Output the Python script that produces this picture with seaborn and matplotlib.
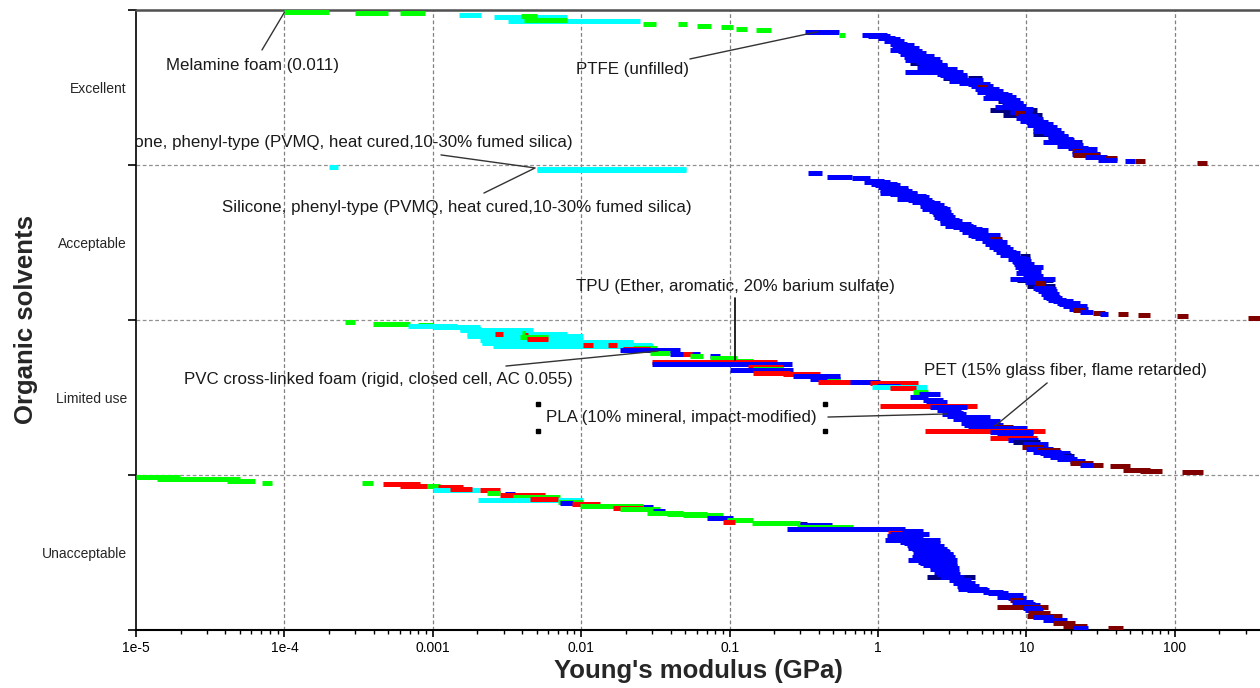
import numpy as np
import pandas as pd
import seaborn as sns
import matplotlib.pyplot as plt
from matplotlib.ticker import FixedLocator, LogLocator, NullFormatter

# rating bands, top to bottom
bands = ["Excellent", "Acceptable", "Limited use", "Unacceptable"]

# material family -> colour
families = {"g": "#00ff00", "c": "#00ffff", "r": "#ff0000",
            "b": "#0000ff", "n": "#000080", "m": "#800000"}

# each record: (E low GPa, E high GPa, rank within band 0..1, family)
excellent = [
    (1e-4, 2.0e-4, 0.0, "g"), (3.0e-4, 5.0e-4, 0.006, "g"), (6e-4, 8.9e-4, 0.006, "g"),
    (1.5e-3, 2.1e-3, 0.02, "c"), (2.6e-3, 8e-3, 0.03, "c"), (3.9e-3, 5.0e-3, 0.025, "g"),
    (3.2e-3, 0.025, 0.06, "c"), (4.1e-3, 8e-3, 0.05, "g"),
    (0.026, 0.032, 0.077, "g"), (0.045, 0.052, 0.077, "g"), (0.060, 0.075, 0.09, "g"),
    (0.087, 0.105, 0.10, "g"), (0.11, 0.13, 0.11, "g"), (0.15, 0.19, 0.12, "g"),
    (0.32, 0.55, 0.13, "b"), (0.55, 0.6, 0.15, "g"),
    (1.65, 1.98, 0.335, "n"), (2.74, 3.3, 0.44, "n"), (4.04, 5.0, 0.44, "n"),
    (6.44, 7.75, 0.59, "n"), (5.7, 11.8, 0.65, "n"), (6.95, 12.7, 0.68, "n"),
    (11.1, 16.8, 0.81, "n"), (20.6, 23.7, 0.86, "n"),
    (0.78, 1.15, 0.148, "b"), (0.85, 1.2, 0.16, "b"), (1.0, 1.3, 0.17, "b"),
    (1.15, 1.4, 0.18, "b"), (1.1, 1.5, 0.19, "b"), (1.2, 1.57, 0.21, "b"),
    (1.25, 1.75, 0.22, "b"), (1.3, 1.7, 0.23, "b"), (1.3, 1.9, 0.24, "b"),
    (1.2, 1.8, 0.25, "b"), (1.36, 1.98, 0.26, "b"), (1.45, 2.1, 0.27, "b"),
    (1.4, 1.98, 0.28, "b"), (1.6, 2.4, 0.29, "b"), (1.5, 2.0, 0.30, "b"),
    (1.7, 2.6, 0.31, "b"), (1.52, 2.17, 0.32, "b"), (1.8, 2.7, 0.33, "b"),
    (1.9, 2.9, 0.35, "b"), (2.0, 2.9, 0.36, "b"), (1.83, 2.92, 0.37, "b"),
    (2.3, 3.4, 0.38, "b"), (2.2, 3.0, 0.385, "b"), (1.52, 3.74, 0.395, "b"),
    (2.5, 3.7, 0.41, "b"), (2.62, 3.98, 0.42, "b"), (2.8, 4.0, 0.43, "b"),
    (3.3, 5.1, 0.45, "b"), (3.0, 4.5, 0.46, "b"), (3.5, 5.0, 0.47, "b"),
    (4.04, 5.7, 0.48, "b"), (4.2, 6.0, 0.49, "b"), (4.65, 5.43, 0.50, "m"),
    (4.5, 6.5, 0.51, "b"), (5.0, 7.0, 0.52, "b"), (4.65, 6.64, 0.53, "b"),
    (5.3, 7.5, 0.54, "b"), (5.5, 8.0, 0.55, "b"), (5.8, 8.5, 0.56, "b"),
    (5.1, 7.75, 0.57, "b"), (6.5, 9.0, 0.58, "b"), (6.8, 9.5, 0.60, "b"),
    (7.0, 9.5, 0.61, "b"), (7.2, 10.0, 0.62, "b"), (6.14, 9.3, 0.63, "b"),
    (8.0, 11.0, 0.64, "b"), (7.75, 10.9, 0.66, "b"), (8.4, 9.8, 0.67, "m"),
    (8.8, 12.0, 0.69, "b"), (8.5, 12.0, 0.70, "b"), (9.5, 13.0, 0.71, "b"),
    (9.1, 12.9, 0.72, "b"), (10.0, 14.0, 0.73, "b"), (10.5, 15.0, 0.74, "b"),
    (10.1, 14.4, 0.75, "b"), (12.0, 16.0, 0.76, "b"), (11.0, 15.0, 0.77, "b"),
    (12.5, 17.0, 0.78, "b"), (11.1, 16.1, 0.79, "b"), (13.0, 18.0, 0.80, "b"),
    (14.0, 19.0, 0.82, "b"), (14.0, 19.0, 0.83, "b"), (15.1, 20.6, 0.84, "b"),
    (15.0, 21.0, 0.85, "b"), (12.9, 23.0, 0.86, "b"), (17.0, 23.0, 0.87, "b"),
    (18.0, 24.0, 0.88, "b"), (16.1, 21.9, 0.89, "b"), (19.0, 26.0, 0.90, "b"),
    (22.0, 30.0, 0.91, "b"), (20.3, 23.7, 0.92, "m"), (21.0, 28.0, 0.93, "b"),
    (20.3, 31.3, 0.94, "b"), (20.6, 31.3, 0.95, "m"), (25.0, 35.0, 0.96, "b"),
    (33.9, 40.8, 0.97, "m"), (30.4, 40.8, 0.98, "b"), (46.0, 54.0, 0.99, "b"),
    (54.0, 63.0, 0.99, "m"), (141.0, 165.0, 1.0, "m"),
]

acceptable = [
    (2.0e-4, 2.3e-4, 0.0, "c"), (5.0e-3, 0.051, 0.013, "c"), (5.0e-3, 0.051, 0.02, "c"),
    (2.35, 2.74, 0.31, "n"), (2.96, 3.46, 0.374, "n"), (9.06, 10.6, 0.59, "n"),
    (9.06, 11.1, 0.68, "n"), (8.65, 15.1, 0.75, "n"), (10.1, 15.6, 0.79, "n"),
    (0.337, 0.42, 0.04, "b"), (0.45, 0.67, 0.065, "b"), (0.67, 0.88, 0.07, "b"),
    (0.86, 1.1, 0.09, "b"), (0.8, 1.2, 0.10, "b"), (0.9, 1.34, 0.11, "b"),
    (0.95, 1.4, 0.12, "b"), (1.0, 1.34, 0.13, "b"), (1.1, 1.6, 0.14, "b"),
    (1.03, 1.6, 0.15, "b"), (1.15, 1.7, 0.16, "b"), (1.03, 1.83, 0.17, "b"),
    (1.2, 1.83, 0.18, "b"), (1.4, 2.1, 0.19, "b"), (1.5, 2.2, 0.20, "b"),
    (1.34, 2.01, 0.21, "b"), (1.6, 2.3, 0.22, "b"), (1.7, 2.4, 0.23, "b"),
    (1.92, 2.62, 0.24, "b"), (1.95, 2.8, 0.25, "b"), (1.92, 2.62, 0.26, "b"),
    (2.1, 2.9, 0.27, "b"), (1.98, 3.05, 0.28, "b"), (2.2, 3.0, 0.29, "b"),
    (2.3, 3.1, 0.30, "b"), (2.5, 3.2, 0.32, "b"), (2.4, 3.3, 0.33, "b"),
    (2.5, 3.2, 0.34, "b"), (2.6, 3.5, 0.35, "b"), (2.7, 3.7, 0.36, "b"),
    (2.62, 3.57, 0.37, "b"), (3.0, 4.2, 0.38, "b"), (2.83, 4.37, 0.39, "b"),
    (3.2, 4.6, 0.40, "b"), (3.5, 5.0, 0.41, "b"), (3.86, 5.5, 0.42, "b"),
    (3.7, 5.3, 0.43, "b"), (4.04, 6.64, 0.45, "b"), (4.2, 6.2, 0.46, "b"),
    (4.5, 6.0, 0.47, "b"), (5.69, 6.85, 0.48, "m"), (5.0, 6.8, 0.49, "b"),
    (5.5, 7.4, 0.50, "b"), (5.3, 7.2, 0.51, "b"), (5.6, 7.7, 0.53, "b"),
    (5.96, 8.1, 0.54, "b"), (6.2, 8.5, 0.56, "b"), (6.95, 9.06, 0.57, "b"),
    (6.6, 8.9, 0.58, "b"), (7.8, 10.0, 0.60, "b"), (7.5, 10.5, 0.61, "b"),
    (8.0, 10.8, 0.62, "b"), (8.1, 10.3, 0.63, "b"), (8.3, 11.2, 0.64, "b"),
    (8.4, 12.9, 0.66, "b"), (8.8, 11.8, 0.67, "b"), (9.0, 12.5, 0.69, "b"),
    (8.5, 11.5, 0.70, "b"), (9.5, 13.0, 0.72, "b"), (7.75, 15.6, 0.74, "b"),
    (9.8, 13.5, 0.76, "b"), (11.4, 13.3, 0.77, "m"), (11.0, 15.0, 0.80, "b"),
    (11.5, 15.8, 0.81, "b"), (12.0, 16.1, 0.82, "b"), (12.5, 16.5, 0.84, "b"),
    (12.9, 16.8, 0.86, "b"), (13.5, 17.5, 0.87, "b"), (14.0, 18.5, 0.88, "b"),
    (15.1, 20.6, 0.89, "b"), (16.0, 23.0, 0.90, "b"), (16.5, 21.5, 0.91, "b"),
    (17.7, 25.6, 0.92, "b"), (19.5, 26.0, 0.94, "b"),
    (20.6, 24.8, 0.95, "m"), (23.0, 28.1, 0.96, "b"), (28.1, 33.9, 0.97, "m"),
    (31.3, 35.5, 0.975, "b"), (41.4, 48.4, 0.975, "m"), (56.5, 68.0, 0.98, "m"),
    (103.0, 123.0, 0.99, "m"), (311.0, 375.0, 1.0, "m"),
]

limited = [
    (2.56e-4, 2.99e-4, 0.0, "g"), (3.95e-4, 7.0e-4, 0.013, "g"), (7.95e-4, 1.0e-3, 0.02, "g"),
    (6.8e-4, 1.46e-3, 0.026, "c"), (1.0e-3, 2.08e-3, 0.032, "c"), (1.52e-3, 2.1e-3, 0.045, "c"),
    (1.52e-3, 4.73e-3, 0.052, "c"), (1.70e-3, 8.0e-3, 0.077, "c"), (1.7e-3, 0.0103, 0.09, "c"),
    (2.08e-3, 0.0103, 0.116, "c"), (2.15e-3, 0.0223, 0.13, "c"), (2.15e-3, 0.0223, 0.14, "c"),
    (3.0e-3, 0.03, 0.15, "c"), (2.55e-3, 0.0305, 0.16, "c"),
    (2.62e-3, 2.97e-3, 0.077, "r"), (4.0e-3, 4.2e-3, 0.07, "g"), (4.18e-3, 4.38e-3, 0.084, "r"),
    (3.87e-3, 5.97e-3, 0.097, "g"), (4.31e-3, 5.97e-3, 0.11, "r"),
    (0.0103, 0.012, 0.148, "r"), (0.0152, 0.0174, 0.148, "r"),
    (0.0223, 0.0324, 0.174, "g"), (0.0191, 0.0291, 0.18, "r"), (0.0182, 0.0463, 0.187, "b"),
    (0.0291, 0.0396, 0.206, "g"), (0.0396, 0.0632, 0.213, "b"), (0.0485, 0.0558, 0.213, "r"),
    (0.054, 0.0662, 0.226, "g"), (0.0738, 0.086, 0.226, "b"), (0.0738, 0.112, 0.24, "g"),
    (0.105, 0.144, 0.258, "g"), (0.030, 0.208, 0.265, "r"), (0.030, 0.263, 0.277, "b"),
    (0.133, 0.229, 0.30, "r"), (0.144, 0.229, 0.31, "g"), (0.1007, 0.267, 0.316, "b"),
    (0.144, 0.255, 0.335, "r"), (0.229, 0.406, 0.342, "r"), (0.267, 0.554, 0.355, "b"),
    (0.348, 0.554, 0.374, "b"), (0.453, 0.554, 0.387, "g"), (0.394, 0.88, 0.40, "r"),
    (0.647, 1.03, 0.40, "b"), (0.88, 1.86, 0.406, "r"), (0.984, 1.41, 0.426, "b"),
    (0.91, 2.14, 0.432, "c"), (1.2, 1.8, 0.44, "r"), (1.72, 2.17, 0.465, "g"),
    (1.9, 2.6, 0.48, "b"), (1.64, 2.17, 0.497, "b"), (2.01, 2.74, 0.516, "b"),
    (2.1, 2.9, 0.53, "b"), (1.03, 4.65, 0.555, "r"), (2.24, 3.98, 0.561, "b"),
    (2.5, 3.6, 0.58, "b"), (2.92, 3.74, 0.60, "b"), (2.7, 3.9, 0.61, "b"),
    (2.92, 3.74, 0.626, "b"), (3.41, 5.69, 0.632, "b"), (3.2, 4.9, 0.64, "b"),
    (4.17, 6.64, 0.658, "b"), (3.6, 5.9, 0.67, "b"), (3.8, 7.0, 0.68, "b"),
    (5.96, 8.1, 0.697, "m"), (4.04, 10.1, 0.703, "b"), (4.6, 8.3, 0.71, "b"),
    (2.07, 13.3, 0.723, "r"), (5.69, 11.1, 0.729, "b"), (6.3, 10.5, 0.74, "b"),
    (7.0, 11.0, 0.75, "b"), (5.69, 11.8, 0.768, "r"), (7.5, 12.0, 0.78, "b"),
    (8.1, 12.4, 0.794, "n"), (9.5, 14.0, 0.81, "b"), (9.3, 12.9, 0.826, "m"),
    (10.0, 15.0, 0.84, "b"), (11.8, 16.8, 0.852, "m"), (11.0, 17.0, 0.86, "b"),
    (12.4, 19.7, 0.871, "b"), (13.0, 20.0, 0.88, "b"), (18.0, 21.0, 0.89, "n"),
    (14.4, 20.6, 0.897, "b"), (16.0, 22.0, 0.91, "b"),
    (19.7, 24.8, 0.923, "b"), (19.7, 28.1, 0.935, "m"), (23.0, 29.0, 0.948, "b"),
    (28.1, 32.8, 0.948, "m"), (36.6, 49.9, 0.955, "m"), (44.8, 68.0, 0.98, "m"),
    (58.2, 82.0, 0.987, "m"), (112.0, 155.0, 0.994, "m"),
]

unacceptable = [
    (1e-5, 1.98e-5, 0.0, "g"), (1.385e-5, 5.0e-5, 0.013, "g"), (4.1e-5, 6.34e-5, 0.026, "g"),
    (7.06e-5, 8.25e-5, 0.039, "g"), (3.33e-4, 3.95e-4, 0.039, "g"),
    (4.62e-4, 8.2e-4, 0.045, "r"), (6.0e-4, 9.3e-4, 0.058, "r"), (9.14e-4, 1.12e-3, 0.058, "g"),
    (1.08e-3, 1.6e-3, 0.065, "r"), (1.0e-3, 2.08e-3, 0.084, "c"), (1.31e-3, 1.84e-3, 0.077, "r"),
    (2.08e-3, 2.84e-3, 0.084, "r"), (2.32e-3, 2.84e-3, 0.103, "g"), (3.07e-3, 3.58e-3, 0.11, "b"),
    (2.84e-3, 5.7e-3, 0.116, "r"), (3.47e-3, 7.2e-3, 0.129, "g"),
    (2.02e-3, 5.89e-3, 0.148, "c"), (3.87e-3, 0.0103, 0.148, "c"), (4.52e-3, 6.98e-3, 0.145, "r"),
    (6.98e-3, 0.0103, 0.161, "g"), (7.2e-3, 8.8e-3, 0.174, "b"), (8.67e-3, 0.0134, 0.18, "r"),
    (9.8e-3, 0.026, 0.19, "g"), (0.026, 0.0305, 0.20, "b"), (0.0164, 0.026, 0.206, "r"),
    (0.0182, 0.034, 0.213, "g"), (0.0305, 0.0367, 0.226, "b"), (0.0277, 0.0485, 0.239, "g"),
    (0.0379, 0.0705, 0.245, "g"), (0.0485, 0.090, 0.252, "g"), (0.0705, 0.105, 0.271, "b"),
    (0.096, 0.144, 0.284, "g"), (0.090, 0.109, 0.297, "r"), (0.142, 0.298, 0.303, "g"),
    (0.298, 0.33, 0.31, "n"), (0.298, 0.49, 0.316, "b"), (0.284, 0.68, 0.329, "g"),
    (2.14, 4.5, 0.665, "n"), (3.46, 4.04, 0.729, "n"),
    (0.244, 1.52, 0.342, "b"), (1.2, 2.0, 0.36, "b"), (1.17, 1.45, 0.368, "r"),
    (1.2, 2.2, 0.38, "b"), (1.15, 1.86, 0.387, "b"), (1.3, 2.0, 0.40, "b"),
    (1.11, 2.62, 0.419, "b"), (1.4, 2.5, 0.43, "b"), (1.5, 2.6, 0.44, "b"),
    (1.57, 2.35, 0.452, "b"), (1.6, 2.8, 0.46, "b"), (1.6, 2.6, 0.47, "b"),
    (1.7, 2.9, 0.48, "b"), (1.75, 3.0, 0.49, "b"), (1.72, 3.05, 0.497, "b"),
    (1.8, 3.2, 0.51, "b"), (1.83, 3.2, 0.516, "b"), (1.7, 3.3, 0.53, "b"),
    (1.59, 3.41, 0.548, "b"), (1.85, 3.3, 0.56, "b"), (1.92, 3.3, 0.568, "b"),
    (2.0, 3.4, 0.58, "b"), (2.24, 3.41, 0.59, "b"), (2.3, 3.5, 0.60, "b"),
    (2.24, 3.41, 0.613, "b"), (2.4, 3.5, 0.63, "b"), (2.5, 3.57, 0.645, "b"),
    (2.6, 3.8, 0.66, "b"), (3.0, 4.2, 0.68, "b"), (3.46, 4.17, 0.69, "b"),
    (3.2, 4.5, 0.70, "b"), (3.4, 4.8, 0.72, "b"), (3.46, 5.43, 0.742, "b"),
    (4.0, 5.6, 0.75, "b"), (5.1, 6.95, 0.761, "b"), (5.5, 7.5, 0.77, "b"),
    (7.0, 9.5, 0.78, "b"), (6.34, 9.06, 0.794, "b"), (7.5, 10.0, 0.80, "b"),
    (7.75, 9.5, 0.813, "m"), (8.0, 11.0, 0.83, "b"), (8.5, 11.5, 0.84, "b"),
    (8.65, 12.4, 0.852, "b"), (6.34, 14.0, 0.865, "m"), (9.5, 12.5, 0.87, "b"),
    (9.8, 12.9, 0.884, "b"), (10.3, 14.4, 0.903, "m"), (10.1, 17.4, 0.923, "m"),
    (11.0, 15.0, 0.93, "b"), (12.9, 18.8, 0.948, "b"), (15.1, 21.3, 0.968, "m"),
    (17.7, 25.6, 0.987, "m"), (20.6, 26.0, 1.0, "b"), (35.5, 44.8, 1.0, "m"),
]

decade_ticks = [1e-5, 1e-4, 1e-3, 1e-2, 1e-1, 1, 10, 100]
decade_labels = ["1e-5", "1e-4", "0.001", "0.01", "0.1", "1", "10", "100"]

# ---- build a tidy table ----
rows = []
for i, recs in enumerate([excellent, acceptable, limited, unacceptable]):
    for lo, hi, rank, fam in recs:
        rows.append({"band": bands[i], "y": i + 0.015 + 0.97 * rank,
                     "lo": lo, "hi": hi, "fam": fam})
df = pd.DataFrame(rows)

sns.set_theme(style="ticks")
plt.rcParams["font.family"] = ["Liberation Sans", "DejaVu Sans"]

fig = plt.figure(figsize=(12.6, 6.88), dpi=100)
ax = fig.add_axes([136 / 1260, 58 / 688, 1124 / 1260, 620 / 688])

ax.hlines(df["y"], df["lo"], df["hi"], colors=df["fam"].map(families),
          linewidth=3.6, zorder=3)

ax.set_xscale("log")
ax.set_xlim(1e-5, 375)
ax.set_ylim(4, 0)

# x axis
ax.xaxis.set_major_locator(FixedLocator(decade_ticks))
ax.set_xticklabels(decade_labels)
ax.xaxis.set_minor_locator(LogLocator(base=10, subs=np.arange(2, 10), numticks=20))
ax.xaxis.set_minor_formatter(NullFormatter())
ax.tick_params(axis="x", which="major", length=5, width=1.2, labelsize=10, pad=3, colors="black")
ax.tick_params(axis="x", which="minor", length=3, width=1.0, colors="black")

# y axis: ticks on band edges, labels at band centres
ax.set_yticks([0, 1, 2, 3, 4])
ax.set_yticklabels([])
ax.set_yticks([0.5, 1.5, 2.5, 3.5], minor=True)
ax.set_yticklabels(bands, minor=True)
ax.tick_params(axis="y", which="major", length=6, width=1.2, colors="black")
ax.tick_params(axis="y", which="minor", length=0, labelsize=10, pad=6.5)

# dashed grid
ax.grid(False)
for xv in decade_ticks[1:]:
    ax.axvline(xv, color="#808080", lw=0.9, ls=(0, (3, 2)), zorder=1)
for yv in [1, 2, 3]:
    ax.axhline(yv, color="#909090", lw=0.9, ls=(0, (3, 2)), zorder=1)

ax.spines["right"].set_visible(False)
ax.spines["top"].set_color("#505050")
ax.spines["top"].set_linewidth(1.8)
ax.spines["left"].set_color("black")
ax.spines["left"].set_linewidth(1.2)
ax.spines["bottom"].set_color("black")
ax.spines["bottom"].set_linewidth(1.5)

ax.set_xlabel("Young's modulus (GPa)", fontsize=18.5, fontweight="bold", labelpad=3)
ax.set_ylabel("Organic solvents", fontsize=18.5, fontweight="bold", labelpad=3)

# ---- annotations ----
lead = dict(color="#333333", lw=1, zorder=4)
tfont = dict(fontsize=12.2, ha="center", va="center", color="#1a1a1a", zorder=5)

ax.text(6.05e-5, 0.36, "Melamine foam (0.011)", **tfont)
ax.plot([7.06e-5, 1e-4], [0.258, 0.015], **lead)

ax.text(0.0223, 0.387, "PTFE (unfilled)", **tfont)
ax.plot([0.054, 0.394], [0.316, 0.14], **lead)

ax.text(2.3e-4, 0.852, "Silicone, phenyl-type (PVMQ, heat cured,10-30% fumed silica)",
        clip_on=True, **tfont)
ax.plot([1.135e-3, 4.89e-3, 2.21e-3], [0.935, 1.019, 1.181], **lead)
ax.text(1.445e-3, 1.271, "Silicone, phenyl-type (PVMQ, heat cured,10-30% fumed silica)", **tfont)

ax.text(0.1087, 1.781, "TPU (Ether, aromatic, 20% barium sulfate)", **tfont)
ax.plot([0.1087, 0.1087], [1.858, 2.258], color="black", lw=1.2, zorder=4)

ax.text(4.33e-4, 2.387, "PVC cross-linked foam (rigid, closed cell, AC 0.055)", **tfont)
ax.plot([3.11e-3, 0.033], [2.297, 2.2], **lead)

ax.text(0.0471, 2.626, "PLA (10% mineral, impact-modified)", **tfont)
ax.plot([5.12e-3, 5.12e-3, 0.44, 0.44], [2.542, 2.716, 2.542, 2.716],
        ls="none", marker="s", ms=3, color="black", zorder=5)
ax.plot([0.46, 2.92], [2.626, 2.606], **lead)

ax.text(18.2, 2.323, "PET (15% glass fiber, flame retarded)", **tfont)
ax.plot([13.8, 6.14], [2.406, 2.684], **lead)

fig.savefig("out.png", dpi=100)
